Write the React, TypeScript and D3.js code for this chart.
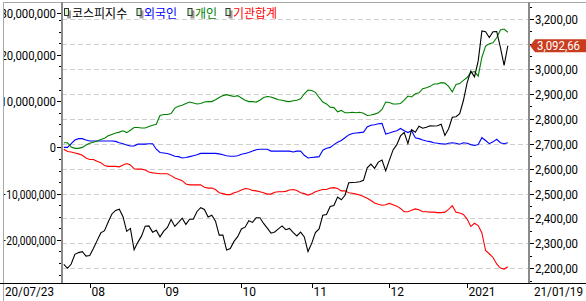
import React from "react";
import * as d3 from "d3";

const W = 586;
const H = 301;

// trading days (yy/mm/dd)
const DATES: string[] = [
  "20/07/23","20/07/24","20/07/27","20/07/28","20/07/29","20/07/30","20/07/31",
  "20/08/03","20/08/04","20/08/05","20/08/06","20/08/07","20/08/10","20/08/11","20/08/12","20/08/13","20/08/14",
  "20/08/18","20/08/19","20/08/20","20/08/21","20/08/24","20/08/25","20/08/26","20/08/27","20/08/28","20/08/31",
  "20/09/01","20/09/02","20/09/03","20/09/04","20/09/07","20/09/08","20/09/09","20/09/10","20/09/11","20/09/14",
  "20/09/15","20/09/16","20/09/17","20/09/18","20/09/21","20/09/22","20/09/23","20/09/24","20/09/25","20/09/28","20/09/29",
  "20/10/05","20/10/06","20/10/07","20/10/08","20/10/12","20/10/13","20/10/14","20/10/15","20/10/16","20/10/19",
  "20/10/20","20/10/21","20/10/22","20/10/23","20/10/26","20/10/27","20/10/28","20/10/29","20/10/30",
  "20/11/02","20/11/03","20/11/04","20/11/05","20/11/06","20/11/09","20/11/10","20/11/11","20/11/12","20/11/13",
  "20/11/16","20/11/17","20/11/18","20/11/19","20/11/20","20/11/23","20/11/24","20/11/25","20/11/26","20/11/27","20/11/30",
  "20/12/01","20/12/02","20/12/03","20/12/04","20/12/07","20/12/08","20/12/09","20/12/10","20/12/11","20/12/14",
  "20/12/15","20/12/16","20/12/17","20/12/18","20/12/21","20/12/22","20/12/23","20/12/24","20/12/28","20/12/29","20/12/30",
  "21/01/04","21/01/05","21/01/06","21/01/07","21/01/08","21/01/11","21/01/12","21/01/13","21/01/14","21/01/15","21/01/18","21/01/19",
];

// KOSPI index (right axis)
const KOSPI: number[] = [
  2216, 2200, 2217, 2256, 2263, 2267, 2249,
  2251, 2279, 2311, 2342, 2351, 2386, 2418, 2432, 2437, 2407, 2348, 2360, 2274, 2304, 2329, 2369, 2370, 2345, 2353, 2326,
  2349, 2364, 2396, 2368, 2384, 2401, 2376, 2397, 2397, 2428, 2443, 2436, 2406, 2413, 2389, 2333, 2333, 2273, 2279, 2308, 2327,
  2358, 2365, 2391, 2384, 2403, 2403, 2380, 2361, 2341, 2346, 2358, 2370, 2355, 2360, 2343, 2330, 2345, 2326, 2267,
  2300, 2343, 2358, 2413, 2416, 2448, 2452, 2486, 2475, 2493, 2543, 2544, 2545, 2547, 2553, 2603, 2618, 2601, 2626, 2634, 2591,
  2634, 2675, 2696, 2731, 2745, 2700, 2756, 2746, 2770, 2762, 2766, 2772, 2771, 2772, 2778, 2733, 2760, 2806, 2808, 2820, 2873,
  2944, 2991, 2968, 3032, 3152, 3149, 3126, 3149, 3150, 3086, 3014, 3092.66,
];

// cumulative net buying, in millions (left axis)
const FOREIGN: number[] = [
  0.0, 0.0, 0.8, 1.6, 1.9, 1.9, 1.6, 1.4, 1.4, 1.4, 1.4, 1.4, 1.4, 1.4, 1.3, 1.0, 0.8, 0.5, 0.3, 0.3,
  0.7, 0.7, 0.7, 0.8, 0.8, -0.4, -1.1, -1.2, -1.3, -1.6, -1.9, -2.0, -2.3, -2.2, -2.0, -1.8, -1.6, -1.3, -1.3, -1.3,
  -1.3, -1.3, -1.4, -1.6, -1.8, -1.9, -1.9, -1.8, -1.5, -1.3, -1.1, -0.8, -0.5, -0.4, -0.4, -0.4, -0.8, -0.8, -0.8, -0.8,
  -0.8, -0.8, -1.0, -0.8, -0.8, -1.7, -2.3, -2.2, -2.1, -2.0, -0.6, -0.2, 0.0, 0.6, 1.1, 1.5, 2.1, 2.7, 3.0, 3.1,
  3.2, 3.3, 4.4, 4.8, 4.9, 5.1, 5.2, 2.9, 3.1, 3.4, 3.6, 4.1, 3.6, 3.2, 3.6, 2.1, 1.9, 1.6, 1.4, 1.25,
  1.0, 0.9, 0.8, 0.7, 0.9, 1.0, 0.9, 0.7, 1.0, 0.9, 0.6, 0.4, 0.6, 2.1, 1.5, 0.8, 1.2, 1.75, 1.0, 0.8,
  1.0,
];

const INDIVIDUAL: number[] = [
  1.0, 1.0, 0.1, -0.2, -0.2, 0.0, 0.5, 0.9, 1.1, 1.4, 1.7, 2.0, 2.5, 2.8, 3.1, 3.3, 3.6, 3.2, 3.7, 4.3,
  4.3, 4.2, 4.2, 4.5, 4.8, 5.0, 6.9, 7.1, 7.1, 7.3, 8.5, 8.9, 9.1, 9.5, 9.8, 9.6, 9.4, 9.5, 9.8, 9.9,
  9.9, 10.3, 10.8, 11.2, 11.4, 11.2, 11.0, 11.2, 10.7, 10.2, 9.9, 9.9, 9.8, 10.2, 10.8, 11.0, 10.9, 10.6, 10.3, 10.2,
  10.0, 9.9, 10.1, 10.2, 10.5, 11.6, 12.4, 12.3, 11.9, 10.8, 9.8, 9.4, 8.7, 8.6, 7.7, 8.0, 7.5, 7.5, 7.6, 7.5,
  7.6, 7.4, 6.9, 7.0, 7.2, 7.5, 8.2, 9.8, 9.7, 9.4, 9.4, 9.5, 10.2, 11.1, 10.9, 11.6, 11.8, 12.7, 12.9, 13.2,
  13.7, 13.7, 14.0, 13.9, 13.2, 12.0, 13.6, 13.8, 14.5, 15.1, 16.2, 16.4, 15.4, 19.5, 21.9, 22.4, 22.6, 23.7, 25.4, 25.6,
  24.9,
];

const INSTITUTION: number[] = [
  -0.4, -0.9, -1.0, -1.2, -1.4, -1.7, -2.3, -2.6, -2.6, -3.0, -3.3, -3.9, -4.1, -4.1, -4.1, -4.2, -3.8, -3.5, -3.8, -4.6,
  -4.7, -4.7, -4.9, -5.3, -5.5, -5.6, -5.7, -5.7, -5.7, -6.1, -6.6, -6.9, -7.2, -7.9, -8.1, -8.1, -8.1, -8.1, -8.6, -8.8,
  -8.8, -9.1, -9.8, -10.0, -10.2, -10.2, -9.8, -9.6, -9.2, -8.9, -9.0, -9.3, -9.4, -9.6, -9.8, -10.1, -10.1, -9.7, -9.6, -9.6,
  -9.5, -9.2, -9.1, -9.3, -9.8, -10.0, -10.3, -10.0, -9.6, -9.3, -9.1, -9.1, -8.8, -8.7, -8.9, -9.4, -9.4, -9.8, -9.9, -10.1,
  -10.3, -10.6, -11.0, -11.5, -12.0, -12.3, -12.5, -12.4, -12.1, -12.4, -12.7, -13.2, -13.9, -13.9, -13.6, -13.3, -13.5, -13.9, -13.9, -14.0,
  -14.0, -14.1, -14.1, -14.0, -13.4, -12.6, -14.0, -14.2, -14.5, -15.5, -17.1, -16.4, -16.9, -18.5, -22.3, -23.0, -23.8, -25.2, -26.1, -26.3,
  -25.8,
];

const SERIES_NAMES = ["코스피지수", "외국인", "개인", "기관합계"];
const SERIES_COLORS = ["#000000", "#0000ff", "#008000", "#ff0000"];

const MONTH_LABELS = ["08", "09", "10", "11", "12", "2021"];
const MONTH_START_DATES = ["20/08/03", "20/09/01", "20/10/05", "20/11/02", "20/12/01", "21/01/04"];

const LEFT_TICKS = [-20, -10, 0, 10, 20, 30]; // millions
const RIGHT_TICKS = [2200, 2300, 2400, 2500, 2600, 2700, 2800, 2900, 3000, 3100, 3200];

const FONT = "Roboto, 'Noto Sans', sans-serif";
const KFONT = "'Noto Sans CJK KR', sans-serif";

export default function App() {
  const plotL = 62;
  const plotR = 529;
  const plotT = 2;
  const plotB = 283;

  const x = d3.scalePoint<string>().domain(DATES).range([63.8, 507.8]);
  const yL = d3.scaleLinear().domain([-20, 30]).range([239.9, 8.65]);
  const yR = d3.scaleLinear().domain([2200, 3200]).range([268.3, 19]);

  const lineL = d3
    .line<number>()
    .x((_, i) => x(DATES[i]) as number)
    .y((d) => yL(d));
  const lineR = d3
    .line<number>()
    .x((_, i) => x(DATES[i]) as number)
    .y((d) => yR(d));

  const fmtL = (v: number) => d3.format(",")(Math.round(v * 1e6));
  const fmtR = (v: number) => d3.format(",.2f")(v).replace(".", ",");

  const leftMinor = d3.range(-27.5, 31, 2.5).filter((v) => !LEFT_TICKS.includes(v));
  const rightMinor = d3.range(2150, 3260, 50).filter((v) => !RIGHT_TICKS.includes(v));

  const last = KOSPI[KOSPI.length - 1];
  const tagY = yR(last);

  const legendX = [64.5, 137, 188, 226];
  const legendTextX = [72, 144, 195, 233];

  return (
    <svg
      width={W}
      height={H}
      style={{ position: "absolute", left: 0, top: 0, background: "#fff", display: "block" }}
    >
      <rect x={0} y={0} width={W} height={H} fill="#fff" />
      {/* grid lines */}
      {RIGHT_TICKS.map((t) => (
        <line
          key={"g" + t}
          x1={plotL}
          x2={plotR}
          y1={Math.round(yR(t)) + 0.5}
          y2={Math.round(yR(t)) + 0.5}
          stroke="#cfcfcf"
          strokeDasharray="5,3"
        />
      ))}

      {/* series */}
      <path d={lineL(FOREIGN) || ""} fill="none" stroke={SERIES_COLORS[1]} strokeWidth={1.1} />
      <path d={lineL(INSTITUTION) || ""} fill="none" stroke={SERIES_COLORS[3]} strokeWidth={1.1} />
      <path d={lineL(INDIVIDUAL) || ""} fill="none" stroke={SERIES_COLORS[2]} strokeWidth={1.1} />
      <path d={lineR(KOSPI) || ""} fill="none" stroke={SERIES_COLORS[0]} strokeWidth={1.1} />

      {/* legend */}
      {SERIES_NAMES.map((name, i) => (
        <g key={name}>
          <rect x={legendX[i] + 2.5} y={10.5} width={4} height={8} fill="#9a9a9a" />
          <rect x={legendX[i]} y={8.5} width={4} height={7} fill="#d6f5cc" stroke="#333" strokeWidth={1} />
          <text
            x={legendTextX[i]}
            y={17.5}
            fontFamily={KFONT}
            fontSize={12}
            fill={SERIES_COLORS[i]}
          >
            {name}
          </text>
        </g>
      ))}

      {/* left axis */}
      {LEFT_TICKS.map((t) => {
        const y = Math.max(Math.round(yL(t)), 13) + 0.5;
        const label = fmtL(t);
        const digits = label.replace(/[^0-9]/g, "").length;
        const commas = (label.match(/,/g) || []).length;
        const minus = label.startsWith("-") ? 5 : 0;
        const len = digits * 6.2 + commas * 3 + minus;
        return (
          <g key={"l" + t}>
            <line x1={57} x2={62} y1={y} y2={y} stroke="#000" />
            <text
              x={56}
              y={y + 4.5}
              textAnchor="end"
              fontFamily={FONT}
              fontSize={12}
              fill="#000"
              textLength={len}
              lengthAdjust="spacingAndGlyphs"
            >
              {label}
            </text>
          </g>
        );
      })}
      {leftMinor.map((t) => {
        const y = Math.round(yL(t)) + 0.5;
        if (y < plotT + 2 || y > plotB - 1) return null;
        return <line key={"lm" + t} x1={59} x2={62} y1={y} y2={y} stroke="#000" />;
      })}

      {/* right axis */}
      {RIGHT_TICKS.map((t) => {
        const y = Math.round(yR(t)) + 0.5;
        const hidden = Math.abs(yR(t) - tagY) < 11;
        return (
          <g key={"r" + t}>
            <line x1={529} x2={534} y1={y} y2={y} stroke="#000" />
            {!hidden && (
              <text
                x={535}
                y={y + 4.5}
                fontFamily={FONT}
                fontSize={12}
                fill="#000"
                textLength={43}
                lengthAdjust="spacingAndGlyphs"
              >
                {fmtR(t)}
              </text>
            )}
          </g>
        );
      })}
      {rightMinor.map((t) => {
        const y = Math.round(yR(t)) + 0.5;
        if (y < plotT + 2 || y > plotB - 1) return null;
        return <line key={"rm" + t} x1={529} x2={532} y1={y} y2={y} stroke="#000" />;
      })}

      {/* last value tag */}
      <path
        d={`M${530},${tagY} L${535},${tagY - 6.5} L${586},${tagY - 6.5} L${586},${tagY + 6.5} L${535},${tagY + 6.5} Z`}
        fill="#c93d1f"
      />
      <text
        x={537}
        y={tagY + 4.5}
        fontFamily={FONT}
        fontSize={12}
        fill="#fff"
        textLength={43}
        lengthAdjust="spacingAndGlyphs"
      >
        {fmtR(last)}
      </text>

      {/* clip area left of frame */}
      <rect x={0} y={0} width={3} height={H} fill="#fff" />

      {/* frame */}
      <line x1={3.5} x2={3.5} y1={plotT} y2={H} stroke="#a8a8a8" />
      <line x1={3} x2={W} y1={plotT + 0.5} y2={plotT + 0.5} stroke="#a8a8a8" />
      <line x1={plotL} x2={plotL} y1={plotT} y2={plotB} stroke="#8a8a8a" strokeWidth={2} />
      <line x1={plotR} x2={plotR} y1={plotT} y2={plotB} stroke="#8a8a8a" strokeWidth={2} />

      {/* x axis */}
      <line x1={0} x2={W} y1={plotB + 0.5} y2={plotB + 0.5} stroke="#000" />
      {MONTH_START_DATES.map((d, i) => {
        const xx = Math.round(x(d) as number) + 0.5;
        return (
          <g key={d}>
            <line x1={xx} x2={xx} y1={plotB} y2={plotB + 5} stroke="#000" />
            <text x={xx + 1} y={296} fontFamily={FONT} fontSize={12} fill="#000">
              {MONTH_LABELS[i]}
            </text>
          </g>
        );
      })}
      <text x={5} y={296} fontFamily={FONT} fontSize={12} fill="#000" textLength={49} lengthAdjust="spacingAndGlyphs">
        {DATES[0]}
      </text>
      <text x={583} y={296} textAnchor="end" fontFamily={FONT} fontSize={12} fill="#000" textLength={49} lengthAdjust="spacingAndGlyphs">
        {DATES[DATES.length - 1]}
      </text>
    </svg>
  );
}
